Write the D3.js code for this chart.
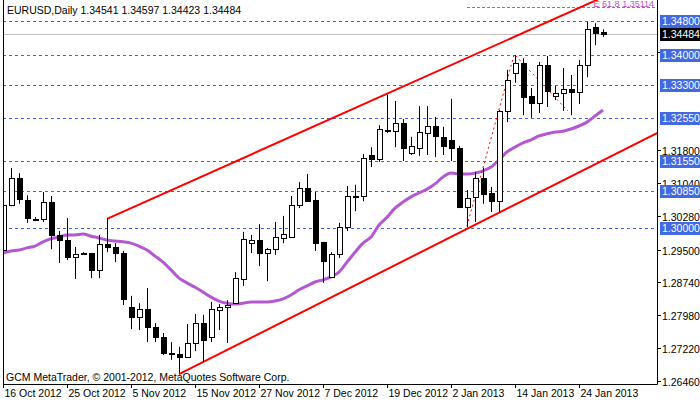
<!DOCTYPE html>
<html><head><meta charset="utf-8">
<script src="https://cdn.jsdelivr.net/npm/d3@7"></script>
<style>body{margin:0;background:#fff}svg{display:block}</style>
</head><body>
<script>
const openP=[1.2949,1.3053,1.3116,1.3065,1.3021,1.3021,1.3060,1.2984,1.2972,1.2933,1.2942,1.2942,1.2903,1.2963,1.2956,1.2942,1.2817,1.2794,1.2813,1.2771,1.2748,1.2711,1.2708,1.2701,1.2734,1.2780,1.2748,1.2810,1.2817,1.2826,1.2882,1.2965,1.2972,1.2942,1.2951,1.2977,1.2979,1.3053,1.3093,1.3065,1.2968,1.2887,1.2940,1.3002,1.3074,1.3074,1.3169,1.3160,1.3227,1.3224,1.3243,1.3174,1.3185,1.3220,1.3236,1.3211,1.3204,1.3185,1.3049,1.3072,1.3116,1.3081,1.3062,1.3271,1.3359,1.3382,1.3305,1.3289,1.3377,1.3305,1.3312,1.3322,1.3315,1.3377,1.3465,1.34541];
const highP=[1.3060,1.3139,1.3127,1.3076,1.3025,1.3083,1.3074,1.2993,1.3023,1.2956,1.2944,1.2942,1.2984,1.3023,1.2965,1.2947,1.2843,1.2826,1.2861,1.2780,1.2757,1.2736,1.2725,1.2778,1.2801,1.2799,1.2829,1.2824,1.2833,1.2898,1.2991,1.2984,1.3009,1.2954,1.3014,1.3028,1.3074,1.3106,1.3125,1.3083,1.2968,1.2944,1.3012,1.3097,1.3100,1.3171,1.3187,1.3238,1.3308,1.3294,1.3252,1.3211,1.3282,1.3282,1.3257,1.3234,1.3299,1.3190,1.3088,1.3130,1.3139,1.3095,1.3273,1.3366,1.3400,1.3393,1.3324,1.3384,1.3398,1.3329,1.3370,1.3354,1.3389,1.3477,1.3474,1.34597];
const lowP=[1.2944,1.3050,1.3056,1.3012,1.3016,1.3014,1.2951,1.2919,1.2926,1.2882,1.2938,1.2884,1.2884,1.2944,1.2921,1.2822,1.2766,1.2764,1.2736,1.2736,1.2706,1.2695,1.2665,1.2699,1.2715,1.2690,1.2736,1.2764,1.2734,1.2826,1.2866,1.2942,1.2912,1.2877,1.2938,1.2965,1.2979,1.3046,1.3062,1.2947,1.2873,1.2887,1.2931,1.2993,1.3039,1.3062,1.3141,1.3153,1.3220,1.3187,1.3155,1.3169,1.3167,1.3169,1.3164,1.3169,1.3155,1.3046,1.3002,1.3014,1.3056,1.3037,1.3037,1.3245,1.3336,1.3261,1.3255,1.3266,1.3280,1.3296,1.3271,1.3261,1.3287,1.3349,1.3423,1.34423];
const closeP=[1.3053,1.3116,1.3067,1.3023,1.3020,1.3060,1.2984,1.2972,1.2933,1.2940,1.2942,1.2903,1.2963,1.2956,1.2942,1.2836,1.2794,1.2813,1.2771,1.2748,1.2711,1.2710,1.2701,1.2734,1.2780,1.2741,1.2813,1.2817,1.2822,1.2884,1.2975,1.2972,1.2942,1.2951,1.2979,1.2986,1.3053,1.3093,1.3062,1.2965,1.2924,1.2940,1.3002,1.3074,1.3073,1.3162,1.3160,1.3229,1.3226,1.3243,1.3185,1.3190,1.3222,1.3236,1.3213,1.3190,1.3185,1.3049,1.3069,1.3116,1.3079,1.3062,1.3271,1.3342,1.3382,1.3303,1.3289,1.3377,1.3317,1.3312,1.3322,1.3315,1.3377,1.3460,1.3451,1.34484];
const maP=[1.2942,1.2947,1.2949,1.2954,1.2958,1.2968,1.2975,1.2979,1.2984,1.2984,1.2986,1.2981,1.2977,1.2972,1.2970,1.2968,1.2965,1.2958,1.2949,1.2935,1.2921,1.2903,1.2884,1.2873,1.2863,1.2852,1.2840,1.2831,1.2826,1.2824,1.2826,1.2829,1.2829,1.2829,1.2831,1.2836,1.2845,1.2857,1.2866,1.2875,1.2880,1.2887,1.2898,1.2921,1.2944,1.2965,1.2979,1.3007,1.3025,1.3046,1.3060,1.3072,1.3081,1.3090,1.3102,1.3118,1.3127,1.3125,1.3125,1.3127,1.3132,1.3141,1.3157,1.3176,1.3187,1.3197,1.3204,1.3213,1.3218,1.3222,1.3224,1.3229,1.3236,1.3245,1.3259,1.3273];
const dateLabels=["16 Oct 2012","25 Oct 2012","5 Nov 2012","15 Nov 2012","27 Nov 2012","7 Dec 2012","19 Dec 2012","2 Jan 2013","14 Jan 2013","24 Jan 2013"];
const dateIdx=[0,8,16,24,32,40,48,56,64,72];
const yTicks=[1.2646,1.2722,1.2798,1.2874,1.2950,1.3028,1.3104,1.3180,1.3408];
const levels=[1.3480,1.3400,1.3330,1.3255,1.3155,1.3085,1.3000];
const upperChannel=[[13,1.3021],[74.5,1.3530]];
const lowerChannel=[[22,1.2662],[82,1.3222]];
const zigzag=[[58,1.3005],[63.9,1.3402],[70.6,1.3271]];
const fibLevel=1.35114, lastPrice=1.34484;

const W=700,H=402,L=3,R=657,B=384;
const svg=d3.select("body").append("svg").attr("width",W).attr("height",H).style("font-family","Liberation Sans, Arial").style("font-size","10.5px");
const x=d3.scaleLinear().domain([0,1]).range([3,11]);
const y=d3.scaleLinear().domain([1.2646,1.3000]).range([381,228]);
svg.append("defs").append("clipPath").attr("id","c").append("rect").attr("x",L).attr("y",0).attr("width",R-L).attr("height",B);
const g=svg.append("g").attr("clip-path","url(#c)");
g.selectAll(".lv").data(levels).join("line").attr("x1",L).attr("x2",R).attr("y1",d=>Math.round(y(d))+.5).attr("y2",d=>Math.round(y(d))+.5).attr("stroke","#3f63d8").attr("stroke-dasharray","3,3");
g.append("line").attr("x1",L).attr("x2",R).attr("y1",Math.round(y(lastPrice))+.5).attr("y2",Math.round(y(lastPrice))+.5).attr("stroke","#c0c0c0");
g.append("line").attr("x1",x(58)).attr("x2",R).attr("y1",Math.round(y(fibLevel))+.5).attr("y2",Math.round(y(fibLevel))+.5).attr("stroke","#c050d0").attr("stroke-dasharray","3,2");
const line=d3.line().x((d,i)=>x(i)).y(d=>y(d)).curve(d3.curveMonotoneX);
g.append("path").attr("d",line(maP)).attr("fill","none").attr("stroke","#b458d2").attr("stroke-width",3);
const pl=d3.line().x(d=>x(d[0])).y(d=>y(d[1]));
[upperChannel,lowerChannel].forEach(c=>g.append("path").attr("d",pl(c)).attr("stroke","#ff0000").attr("stroke-width",2).attr("fill","none"));
g.append("path").attr("d",pl(zigzag)).attr("stroke","#ff0000").attr("stroke-dasharray","2,3").attr("fill","none");
const idx=d3.range(openP.length);
g.selectAll(".w").data(idx).join("line").attr("x1",i=>Math.round(x(i))+.5).attr("x2",i=>Math.round(x(i))+.5).attr("y1",i=>y(highP[i])).attr("y2",i=>y(lowP[i])).attr("stroke","#000");
g.selectAll(".b").data(idx).join("rect")
 .attr("x",i=>Math.round(x(i))-2+.5).attr("width",5)
 .attr("y",i=>Math.round(y(Math.max(openP[i],closeP[i])))+.5)
 .attr("height",i=>Math.max(1,Math.round(Math.abs(y(openP[i])-y(closeP[i])))))
 .attr("fill",i=>closeP[i]>=openP[i]?"#fff":"#000").attr("stroke","#000");
svg.append("path").attr("d",`M${L+.5},0V${B+.5}H${R+.5}V0`).attr("fill","none").attr("stroke","#000");
yTicks.forEach(t=>{const yy=Math.round(y(t))+.5;
 svg.append("line").attr("x1",R).attr("x2",R+4).attr("y1",yy).attr("y2",yy).attr("stroke","#000");
 svg.append("text").attr("x",R+5).attr("y",yy+4).text(t.toFixed(5));});
levels.forEach(t=>{const yy=Math.round(y(t));
 svg.append("rect").attr("x",R+3).attr("y",yy-6).attr("width",W-R-3).attr("height",13).attr("fill","#4169e1");
 svg.append("text").attr("x",R+5).attr("y",yy+4).attr("fill","#fff").text(t.toFixed(5));});
{const yy=Math.round(y(lastPrice));
 svg.append("rect").attr("x",R+3).attr("y",yy-6).attr("width",W-R-3).attr("height",13).attr("fill","#000");
 svg.append("text").attr("x",R+5).attr("y",yy+4).attr("fill","#fff").text(lastPrice.toFixed(5));}
dateIdx.forEach((d,k)=>{const xx=Math.round(x(d))+.5;
 svg.append("line").attr("x1",xx).attr("x2",xx).attr("y1",B).attr("y2",B+4).attr("stroke","#000");
 svg.append("text").attr("x",xx+1).attr("y",397).text(dateLabels[k]);});
svg.append("text").attr("x",R-3).attr("y",7).attr("text-anchor","end").attr("fill","#c050d0").style("font-size","9px").text("E 61.8 1.35114");
svg.append("text").attr("x",7).attr("y",14).text("EURUSD,Daily  1.34541 1.34597 1.34423 1.34484");
svg.append("text").attr("x",6).attr("y",381).text("GCM MetaTrader, © 2001-2012, MetaQuotes Software Corp.");
</script></body></html>
